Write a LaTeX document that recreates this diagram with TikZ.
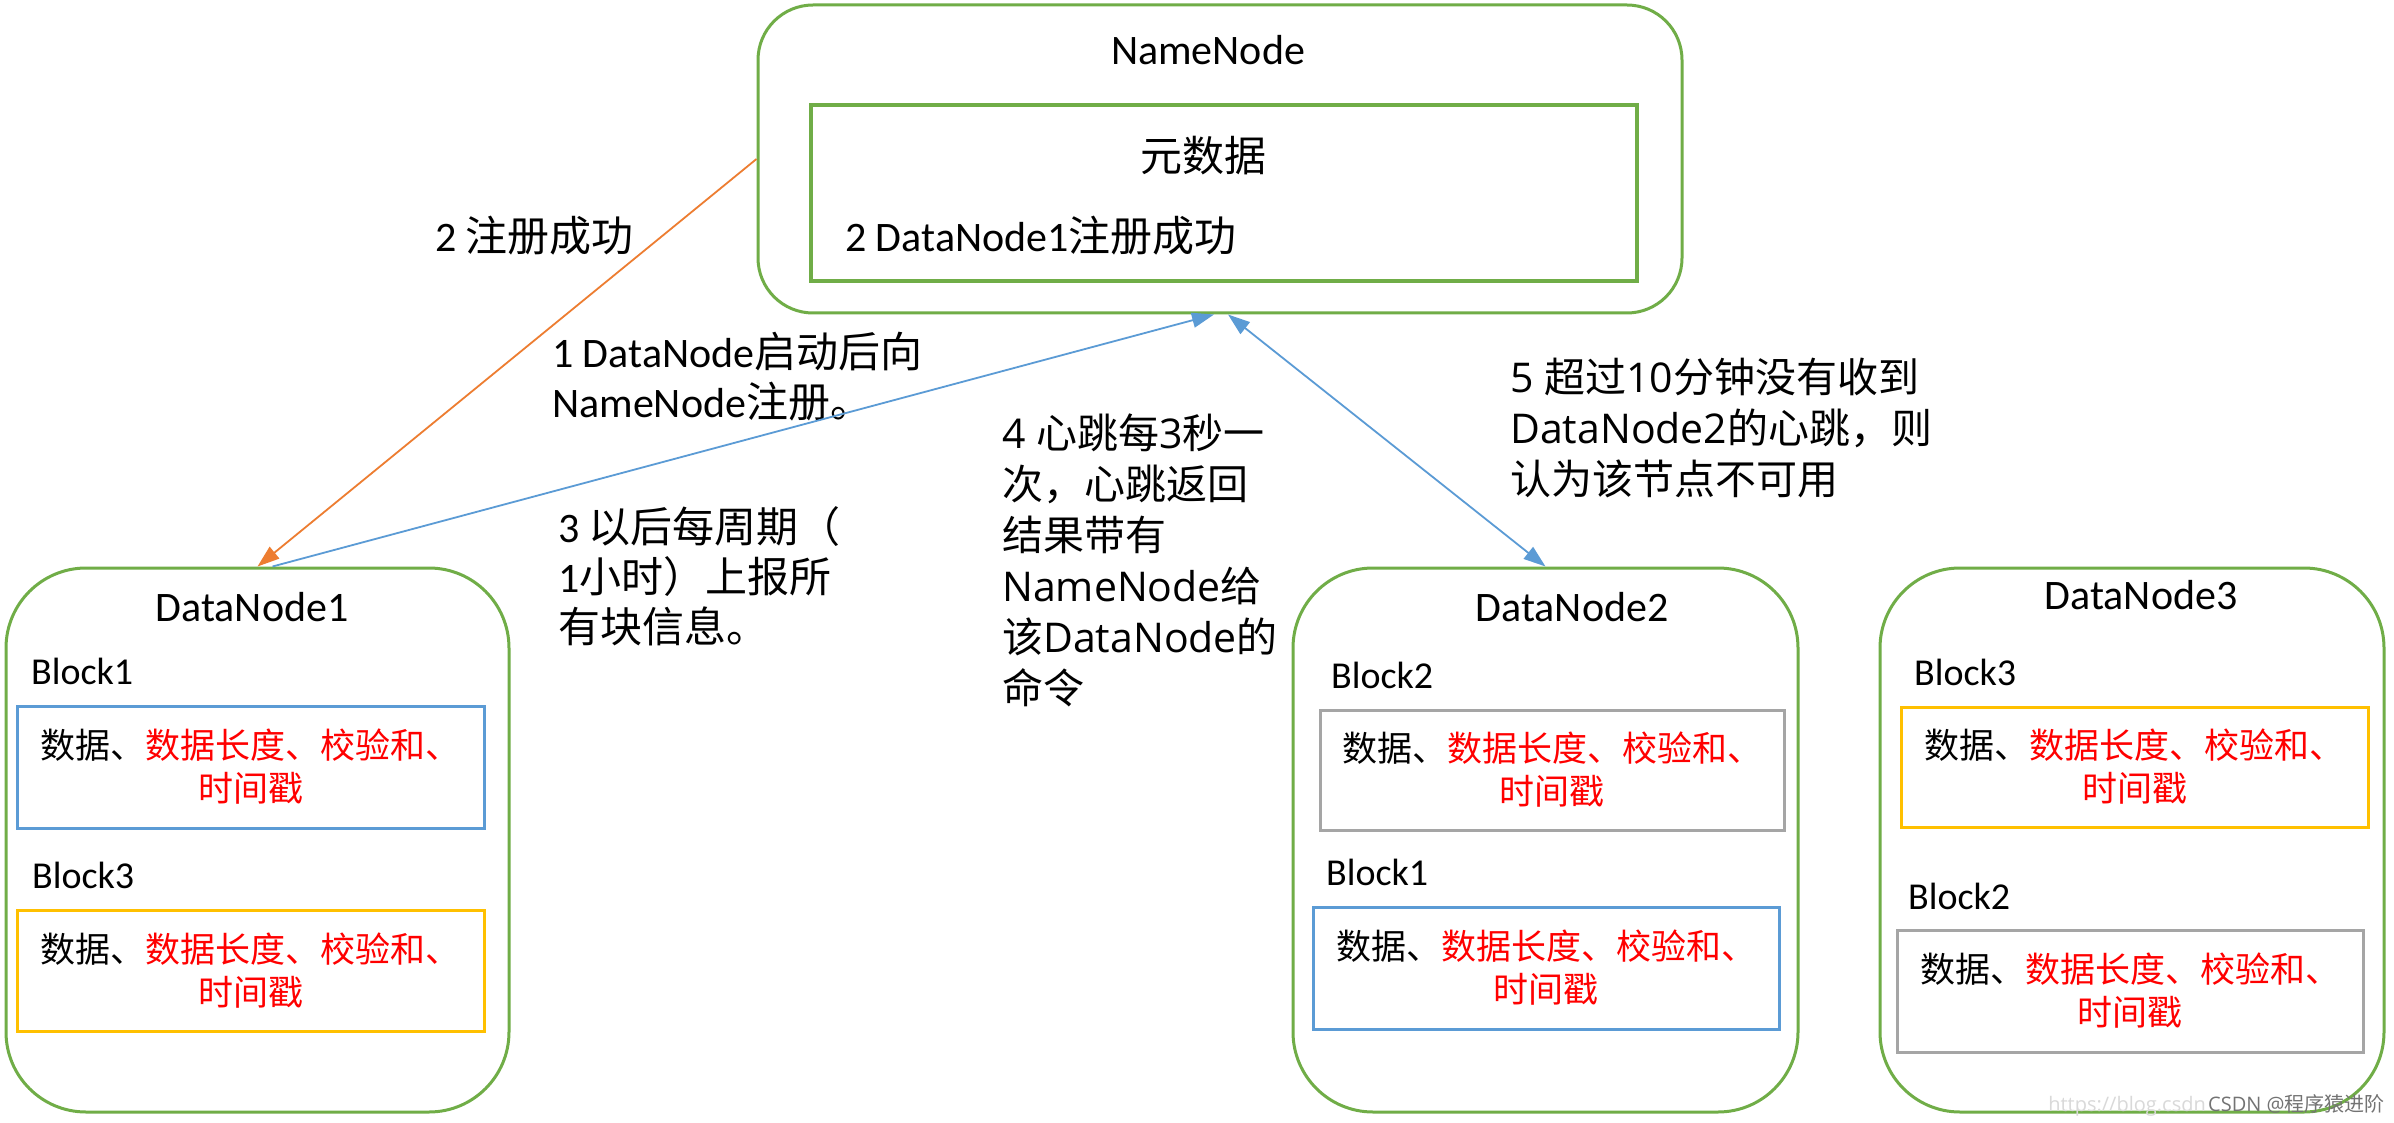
\documentclass[tikz,border=0pt]{standalone}
\usepackage{fontspec}
\setmainfont{Carlito}
\newfontfamily\cjk{Noto Sans CJK SC}
\newfontfamily\lat{Open Sans}
\usetikzlibrary{arrows.meta}
\newcommand\zhs[1]{{\cjk #1}}
\definecolor{mygreen}{RGB}{112,173,71}
\definecolor{myblue}{RGB}{91,155,213}
\definecolor{myorange}{RGB}{237,125,49}
\definecolor{mygold}{RGB}{255,192,0}
\definecolor{mygray}{RGB}{165,165,165}
\begin{document}
\begin{tikzpicture}[x=1pt,y=-1pt,
  rbox/.style={draw=mygreen, line width=3pt, rounded corners=80pt, inner sep=0pt},
  lbl/.style={anchor=north west, inner sep=0pt, align=left, font=\fontsize{42}{50}\selectfont},
  lblb/.style={anchor=north west, inner sep=0pt, align=left, font=\lat\fontsize{41}{51}\selectfont},
  blk/.style={line width=3pt, inner sep=0pt, minimum width=467pt, minimum height=122pt, align=center, font=\cjk\fontsize{35}{43}\selectfont},
  ttl/.style={anchor=base, inner sep=0pt, font=\fontsize{42}{50}\selectfont},
  blab/.style={anchor=base west, inner sep=0pt, font=\fontsize{38}{46}\selectfont},
  conn/.style={line width=1.8pt, -{Triangle[length=22pt,width=15pt]}},
  conn2/.style={line width=1.8pt, {Triangle[length=22pt,width=15pt]}-{Triangle[length=22pt,width=15pt]}}
]
\useasboundingbox (0,0) rectangle (2394,1123);
\fill[white] (0,0) rectangle (2394,1123);

% NameNode
\node[rbox, rounded corners=55pt, minimum width=924pt, minimum height=308pt] (nn) at (1220,159) {};
\node[ttl] (nnt) at (1208,65) {NameNode};
\node[draw=mygreen, line width=4pt, minimum width=826pt, minimum height=176pt, inner sep=0pt] (meta) at (1224,193) {};
\node[anchor=north, inner sep=0pt, font=\cjk\fontsize{42}{50}\selectfont] (yuan) at (1203,136) {元数据};
\node[lbl] (reg) at (845,216) {2 DataNode1\zhs{注册成功}};

% DataNodes
\node[rbox, minimum width=503pt, minimum height=544pt] (dn1) at (257.5,840) {};
\node[rbox, minimum width=505pt, minimum height=544pt] (dn2) at (1545.5,840) {};
\node[rbox, minimum width=504pt, minimum height=544pt] (dn3) at (2132,840) {};
\node[ttl] (dn1t) at (252,621) {DataNode1};
\node[ttl] (dn2t) at (1572,621) {DataNode2};
\node[ttl] (dn3t) at (2141,609) {DataNode3};

% block labels
\node[blab] (l11) at (31,684) {Block1};
\node[blab] (l13) at (32,888) {Block3};
\node[blab] (l22) at (1331,688) {Block2};
\node[blab] (l21) at (1326,885) {Block1};
\node[blab] (l33) at (1914,685) {Block3};
\node[blab] (l32) at (1908,909) {Block2};

% block boxes
\node[blk, draw=myblue] (b11) at (250.5,767) {数据、\textcolor{red}{数据长度、校验和、}\\\textcolor{red}{时间戳}};
\node[blk, draw=mygold, minimum height=121pt] (b13) at (250.5,970.5) {数据、\textcolor{red}{数据长度、校验和、}\\\textcolor{red}{时间戳}};
\node[blk, draw=mygray, minimum width=464pt, minimum height=120pt] (b22) at (1552,770) {数据、\textcolor{red}{数据长度、校验和、}\\\textcolor{red}{时间戳}};
\node[blk, draw=myblue, minimum width=466pt] (b21) at (1546,968) {数据、\textcolor{red}{数据长度、校验和、}\\\textcolor{red}{时间戳}};
\node[blk, draw=mygold, minimum height=120pt] (b33) at (2134.5,767) {数据、\textcolor{red}{数据长度、校验和、}\\\textcolor{red}{时间戳}};
\node[blk, draw=mygray, minimum width=466pt] (b32) at (2130,991) {数据、\textcolor{red}{数据长度、校验和、}\\\textcolor{red}{时间戳}};

% labels
\node[lbl] (t2) at (435,216) {2 \zhs{注册成功}};
\node[lbl] (t1) at (552,332) {1 DataNode\zhs{启动后向}\\NameNode\zhs{注册。}};
\node[lbl] (t3) at (558,506) {3 \zhs{以后每周期（}\\1\zhs{小时）上报所}\\\zhs{有块信息。}};
\node[lblb] (t4) at (1002,414) {4 \zhs{心跳每}3\zhs{秒一}\\\zhs{次，心跳返回}\\\zhs{结果带有}\\NameNode\zhs{给}\\\zhs{该}DataNode\zhs{的}\\\zhs{命令}};
\node[lblb] (t5) at (1510,358) {5 \zhs{超过}10\zhs{分钟没有收到}\\DataNode2\zhs{的心跳，则}\\\zhs{认为该节点不可用}};

% connectors
\draw[conn, myorange] (nn.west) -- (dn1.north);
\draw[conn, myblue] ([xshift=15pt]dn1.north) -- ([xshift=-6pt]nn.south);
\draw[conn2, myblue] ([xshift=8pt]nn.south) -- (dn2.north);

% watermark
\node[anchor=base east, inner sep=0pt, font=\lat\fontsize{20}{24}\selectfont, text=black!15] (wm1) at (2206,1111) {https://blog.csdn};
\node[anchor=base west, inner sep=0pt, font=\lat\fontsize{20}{24}\selectfont, text=black!55] (wm2) at (2208,1111) {CSDN @\zhs{程序猿进阶}};
\end{tikzpicture}
\end{document}
